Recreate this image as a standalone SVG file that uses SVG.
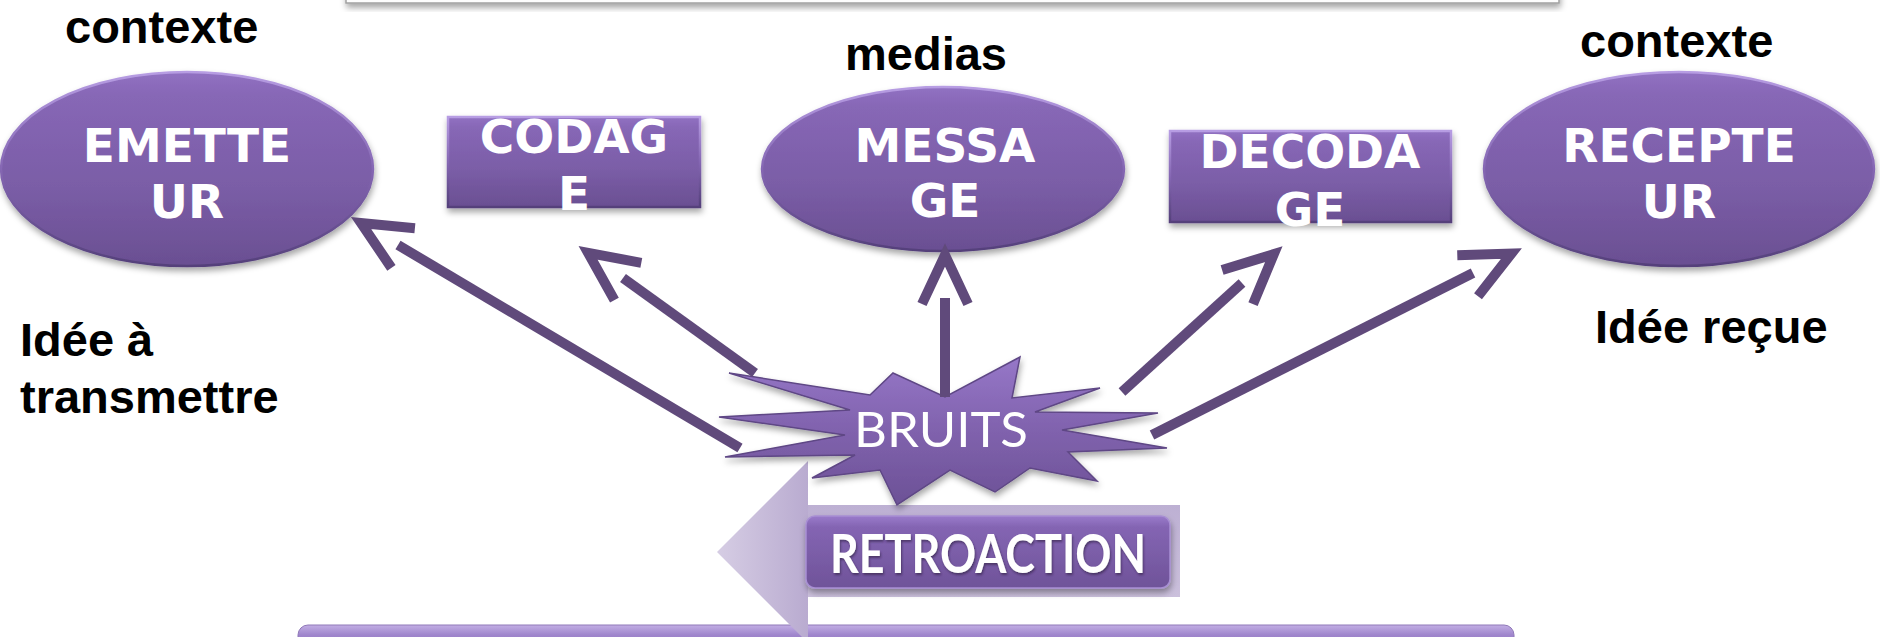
<svg xmlns="http://www.w3.org/2000/svg" width="1880" height="637" viewBox="0 0 1880 637">
  <defs>
    <style>
      .lbl { font-family: "Liberation Sans", Arial, sans-serif; font-weight: bold; font-size: 47px; fill: #000; }
      .node-text { font-family: "DejaVu Sans", sans-serif; font-weight: bold; font-size: 47px; fill: #fff; text-anchor: middle; }
      .node-shape { fill: url(#purpleFill); stroke: url(#rimStroke); stroke-width: 2.5; filter: url(#shadow); }
      .conn { fill: none; stroke: #604a7b; stroke-width: 10; stroke-linecap: butt; marker-end: url(#chevron); }
    </style>
    <linearGradient id="purpleFill" x1="0" y1="0" x2="0" y2="1">
      <stop offset="0" stop-color="#9171c2"/>
      <stop offset="0.12" stop-color="#8767b6"/>
      <stop offset="0.6" stop-color="#7a5da6"/>
      <stop offset="1" stop-color="#6a4f92"/>
    </linearGradient>
    <linearGradient id="rimStroke" x1="0" y1="0" x2="0" y2="1">
      <stop offset="0" stop-color="#b79de3"/>
      <stop offset="0.5" stop-color="#8567b3"/>
      <stop offset="1" stop-color="#54407a"/>
    </linearGradient>
    <linearGradient id="starFill" x1="0" y1="0" x2="0" y2="1">
      <stop offset="0" stop-color="#9677c8"/>
      <stop offset="0.5" stop-color="#8062ad"/>
      <stop offset="1" stop-color="#6c5196"/>
    </linearGradient>
    <linearGradient id="barFill" x1="0" y1="0" x2="0" y2="1">
      <stop offset="0" stop-color="#c2aee4"/>
      <stop offset="0.25" stop-color="#9f85cc"/>
      <stop offset="1" stop-color="#8467b4"/>
    </linearGradient>
    <linearGradient id="retroHead" x1="0" y1="0" x2="1" y2="0">
      <stop offset="0" stop-color="#d6cde4"/>
      <stop offset="1" stop-color="#b9abd0"/>
    </linearGradient>
    <linearGradient id="retroShaft" x1="0" y1="0" x2="0" y2="1">
      <stop offset="0" stop-color="#bdb0d3"/>
      <stop offset="1" stop-color="#cbc0dc"/>
    </linearGradient>
    <linearGradient id="buttonFill" x1="0" y1="0" x2="0" y2="1">
      <stop offset="0" stop-color="#9a7bcb"/>
      <stop offset="0.15" stop-color="#8465b3"/>
      <stop offset="1" stop-color="#6f5399"/>
    </linearGradient>
    <filter id="shadow" x="-10%" y="-10%" width="120%" height="130%">
      <feDropShadow dx="1" dy="4" stdDeviation="3" flood-color="#000" flood-opacity="0.35"/>
    </filter>
    <filter id="textShadow" x="-5%" y="-20%" width="110%" height="140%">
      <feDropShadow dx="1" dy="2" stdDeviation="1.2" flood-color="#2a1d40" flood-opacity="0.6"/>
    </filter>
    <!-- open chevron head, set forward of the line end so it floats free of the shaft -->
    <marker id="chevron" markerUnits="userSpaceOnUse" orient="auto" refX="0" refY="0"
            viewBox="-20 -40 80 80" markerWidth="80" markerHeight="80" overflow="visible">
      <path d="M -6 -23 L 43 0 L -6 23" fill="none" stroke="#604a7b" stroke-width="10" stroke-linejoin="miter" stroke-miterlimit="10"/>
    </marker>
  </defs>

  <rect width="1880" height="637" fill="#fff"/>

  <!-- title box edge at the top -->
  <g id="title-box">
    <rect x="346" y="-40" width="1213" height="43" fill="#fdfdfd" stroke="#a0a0a0" stroke-width="1.5" filter="url(#shadow)"/>
  </g>

  <!-- bottom band -->
  <g id="bottom-band">
    <rect x="298" y="625" width="1216" height="40" rx="10" fill="url(#barFill)" stroke="#8f78b8" stroke-width="1"/>
  </g>

  <!-- context labels -->
  <g id="labels">
    <text class="lbl" x="65" y="43">contexte</text>
    <text class="lbl" x="845" y="70">medias</text>
    <text class="lbl" x="1580" y="57">contexte</text>
    <text class="lbl" x="20" y="356">Idée à</text>
    <text class="lbl" x="20" y="413">transmettre</text>
    <text class="lbl" x="1595" y="343">Idée reçue</text>
  </g>

  <g id="emetteur">
    <ellipse class="node-shape" cx="187" cy="169" rx="186" ry="97"/>
    <text class="node-text" x="187" y="162">EMETTE</text>
    <text class="node-text" x="187" y="218">UR</text>
  </g>

  <g id="codage">
    <rect class="node-shape" x="448" y="117" width="252" height="90"/>
    <text class="node-text" x="574" y="153">CODAG</text>
    <text class="node-text" x="574" y="210">E</text>
  </g>

  <g id="message">
    <ellipse class="node-shape" cx="943" cy="169" rx="181" ry="82"/>
    <text class="node-text" x="945" y="162">MESSA</text>
    <text class="node-text" x="945" y="217">GE</text>
  </g>

  <g id="decodage">
    <rect class="node-shape" x="1170" y="131" width="281" height="91"/>
    <text class="node-text" x="1310" y="168">DECODA</text>
    <text class="node-text" x="1310" y="226">GE</text>
  </g>

  <g id="recepteur">
    <ellipse class="node-shape" cx="1679" cy="169" rx="195" ry="97"/>
    <text class="node-text" x="1679" y="162">RECEPTE</text>
    <text class="node-text" x="1679" y="218">UR</text>
  </g>

  <!-- feedback arrow pointing left -->
  <g id="retroaction">
    <rect x="806" y="505" width="374" height="92" fill="url(#retroShaft)"/>
    <polygon points="717,552 808,461 808,643" fill="url(#retroHead)"/>
    <rect x="806" y="516" width="364" height="72" rx="9" fill="url(#buttonFill)" stroke="#a88fd3" stroke-width="1.5" filter="url(#shadow)"/>
    <text x="988" y="573" text-anchor="middle" textLength="316" lengthAdjust="spacingAndGlyphs"
          font-family="Lato, 'Open Sans', sans-serif" font-weight="bold" font-size="54" fill="#fff" filter="url(#textShadow)">RETROACTION</text>
  </g>

  <g id="bruits">
    <polygon points="893,373 945,397 1020,357 1012,398 1100,388 1035,412 1158,413 1062,430 1167,448 1068,452 1097,481 1030,468 995,492 950,470 897,505 880,470 812,478 855,455 725,457 845,435 719,417 850,410 729,373 870,395"
             fill="url(#starFill)" stroke="#5e4785" stroke-width="1.5" stroke-linejoin="miter" filter="url(#shadow)"/>
    <text x="941" y="447" text-anchor="middle" textLength="174" lengthAdjust="spacingAndGlyphs"
          font-family="Lato, 'Open Sans', sans-serif" font-size="48" fill="#fff">BRUITS</text>
  </g>

  <g id="connectors">
    <path class="conn" d="M 740 448 L 398 245"/>
    <path class="conn" d="M 755 373 L 623 278"/>
    <path class="conn" d="M 945 397 L 945 298"/>
    <path class="conn" d="M 1122 392 L 1242 283"/>
    <path class="conn" d="M 1152 435 L 1473 273"/>
  </g>
</svg>
